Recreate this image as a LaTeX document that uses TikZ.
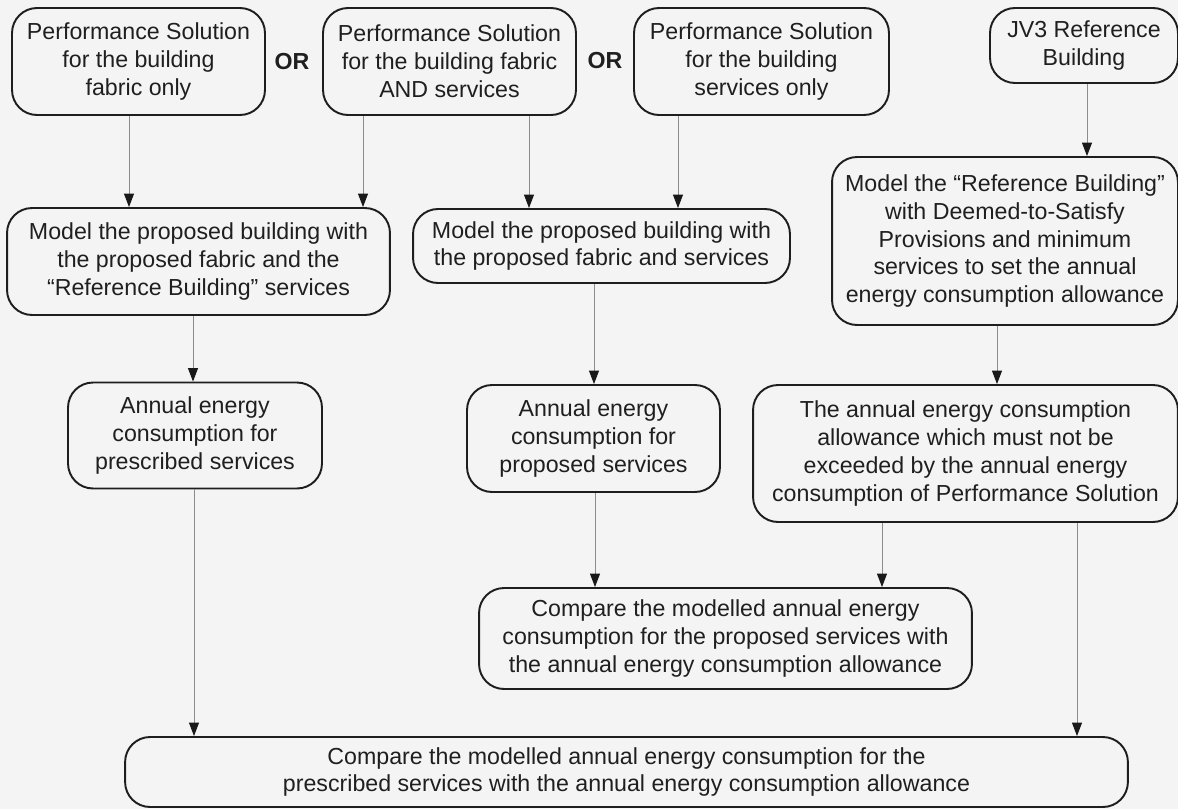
\documentclass[tikz,border=0pt]{standalone}
\usepackage{fontspec}
\setmainfont{Liberation Sans}
\usetikzlibrary{arrows.meta}
\definecolor{rand}{HTML}{1E1E1E}
\definecolor{pfeil}{HTML}{8C8C8C}
\definecolor{grund}{HTML}{F4F4F4}

\begin{document}
\begin{tikzpicture}[x=0.02cm, y=-0.02cm,
    every node/.style={font=\fontsize{13.2}{15.9}\selectfont, text=black!88},
    blk/.style={draw=rand, line width=1.1pt, rounded corners=0.5cm,
                align=center, inner sep=0pt},
    arr/.style={pfeil, line width=0.55pt,
                -{Triangle[length=0.27cm, width=0.2cm, color=black!90]}}]
  \fill[grund] (0,0) rectangle (1178,809);
  \useasboundingbox (0,0) rectangle (1178,809);
  % top row
  \node[blk, minimum width=5.06cm, minimum height=2.14cm] (psfab) at (138.5,61.5)
    {Performance Solution\\for the building\\fabric only};
  \node[font=\fontsize{13.2}{15.9}\selectfont\bfseries] (or1) at (292,62) {OR};
  \node[blk, minimum width=5.06cm, minimum height=2.14cm] (psboth) at (449.5,61.5)
    {Performance Solution\\for the building fabric\\AND services};
  \node[font=\fontsize{13.2}{15.9}\selectfont\bfseries] (or2) at (605,61) {OR};
  \node[blk, minimum width=5.1cm, minimum height=2.14cm] (pssrv) at (761.5,61.5)
    {Performance Solution\\for the building\\services only};
  \node[blk, minimum width=3.76cm, minimum height=1.5cm] (jvref) at (1084,45.5)
    {JV3 Reference\\Building};
  % models
  \node[blk, minimum width=7.66cm, minimum height=2.14cm] (modfab) at (198.5,261.5)
    {Model the proposed building with\\the proposed fabric and the\\“Reference Building” services};
  \node[blk, minimum width=7.54cm, minimum height=1.48cm] (modboth) at (601.5,246)
    {Model the proposed building with\\the proposed fabric and services};
  \node[blk, minimum width=6.92cm, minimum height=3.36cm] (modref) at (1005,241)
    {Model the “Reference Building”\\with Deemed-to-Satisfy\\Provisions and minimum\\services to set the annual\\energy consumption allowance};
  % annual energy
  \node[blk, minimum width=5.08cm, minimum height=2.12cm] (aecpre) at (195,435.5)
    {Annual energy\\consumption for\\prescribed services};
  \node[blk, minimum width=5.06cm, minimum height=2.14cm] (aecpro) at (593.5,438.5)
    {Annual energy\\consumption for\\proposed services};
  \node[blk, minimum width=8.5cm, minimum height=2.74cm] (allow) at (965.5,453.5)
    {The annual energy consumption\\allowance which must not be\\exceeded by the annual energy\\consumption of Performance Solution};
  % comparisons
  \node[blk, minimum width=9.86cm, minimum height=2.02cm] (cmppro) at (725.5,638.5)
    {Compare the modelled annual energy\\consumption for the proposed services with\\the annual energy consumption allowance};
  \node[blk, minimum width=20.06cm, minimum height=1.4cm] (cmppre) at (626.5,772)
    {Compare the modelled annual energy consumption for the\\prescribed services with the annual energy consumption allowance};
  % arrows
  \draw[arr] (129,0 |- psfab.south) -- (129,0 |- modfab.north);
  \draw[arr] (363,0 |- psboth.south) -- (363,0 |- modfab.north);
  \draw[arr] (529,0 |- psboth.south) -- (529,0 |- modboth.north);
  \draw[arr] (678,0 |- pssrv.south) -- (678,0 |- modboth.north);
  \draw[arr] (1087,0 |- jvref.south) -- (1087,0 |- modref.north);
  \draw[arr] (193,0 |- modfab.south) -- (193,0 |- aecpre.north);
  \draw[arr] (594,0 |- modboth.south) -- (594,0 |- aecpro.north);
  \draw[arr] (997,0 |- modref.south) -- (997,0 |- allow.north);
  \draw[arr] (194,0 |- aecpre.south) -- (194,0 |- cmppre.north);
  \draw[arr] (595,0 |- aecpro.south) -- (595,0 |- cmppro.north);
  \draw[arr] (882,0 |- allow.south) -- (882,0 |- cmppro.north);
  \draw[arr] (1077,0 |- allow.south) -- (1077,0 |- cmppre.north);
\end{tikzpicture}
\end{document}
